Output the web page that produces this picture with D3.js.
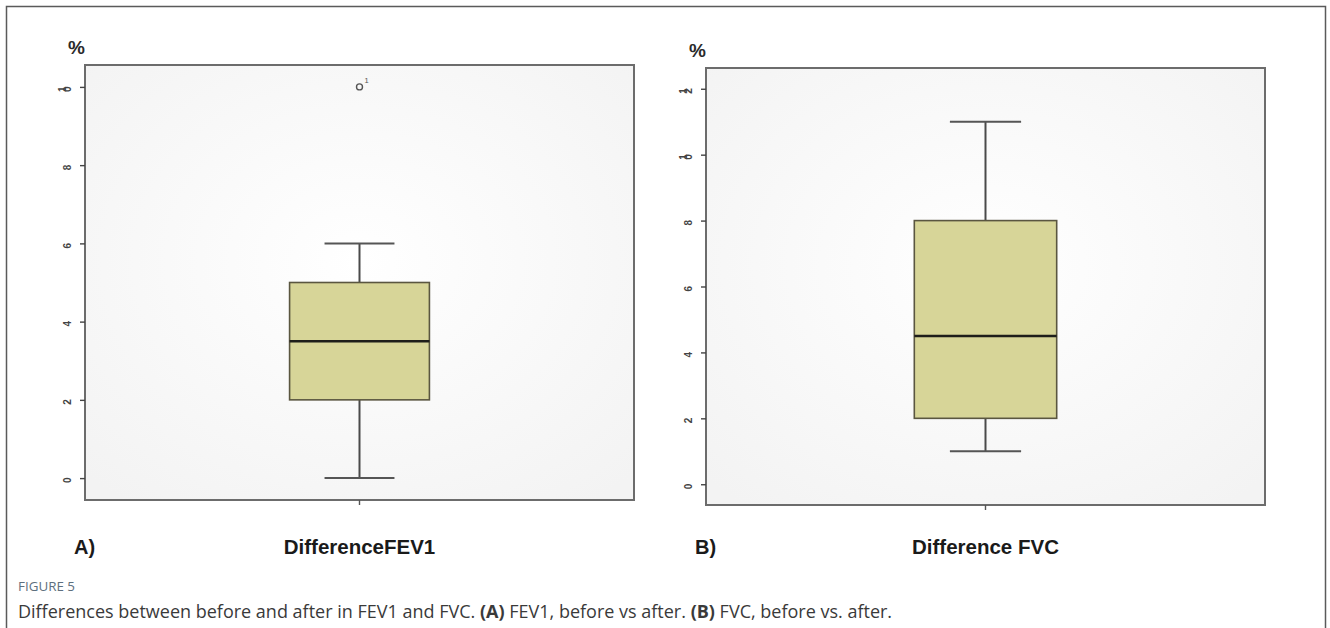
<!DOCTYPE html>
<html>
<head>
<meta charset="utf-8">
<script src="https://cdn.jsdelivr.net/npm/d3@7"></script>
<style>
  html, body { margin: 0; padding: 0; background: #ffffff; }
  svg { display: block; }
</style>
</head>
<body>
<svg id="chart" width="1330" height="628"></svg>
<script>
// ---------------- data ----------------
const categories   = ["DifferenceFEV1", "Difference FVC"];
const panelLabels  = ["A)", "B)"];
const whiskerLow   = [0, 1];
const q1           = [2, 2];
const median       = [3.5, 4.5];
const q3           = [5, 8];
const whiskerHigh  = [6, 11];
const outlierValues = [[10], []];
const outlierLabels = [["1"], []];
const yTicksA = [0, 2, 4, 6, 8, 10];
const yTicksB = [0, 2, 4, 6, 8, 10, 12];
const yDomainA = [-0.56, 10.56];
const yDomainB = [-0.63, 12.63];
const yUnit = "%";
const figureTitle = "FIGURE 5";
const captionParts = [
  {t: "Differences between before and after in FEV1 and FVC. ", b: false},
  {t: "(A)", b: true},
  {t: " FEV1, before vs after. ", b: false},
  {t: "(B)", b: true},
  {t: " FVC, before vs. after.", b: false}
];

// ---------------- layout ----------------
const svg = d3.select("#chart");

const panels = [
  {x0: 85, x1: 634, y0: 65, y1: 500, ticks: yTicksA, domain: yDomainA},
  {x0: 706, x1: 1265, y0: 68, y1: 505, ticks: yTicksB, domain: yDomainB}
];

// outer border
svg.append("rect")
  .attr("x", 6.5).attr("y", 6.5)
  .attr("width", 1319).attr("height", 640)
  .attr("fill", "none").attr("stroke", "#5a5a5a").attr("stroke-width", 1.5);

const defs = svg.append("defs");
const grad = defs.append("radialGradient").attr("id", "bgGrad")
  .attr("cx", "50%").attr("cy", "45%").attr("r", "70%");
grad.append("stop").attr("offset", "0%").attr("stop-color", "#ffffff");
grad.append("stop").attr("offset", "100%").attr("stop-color", "#f3f3f3");

const labelFont = "'Liberation Sans', Arial, Helvetica, sans-serif";

panels.forEach((p, i) => {
  const g = svg.append("g");
  const y = d3.scaleLinear().domain(p.domain).range([p.y1, p.y0]);
  const x = d3.scaleBand().domain([categories[i]]).range([p.x0, p.x1]).padding(0.594);

  // plot background & frame
  g.append("rect")
    .attr("x", p.x0).attr("y", p.y0)
    .attr("width", p.x1 - p.x0).attr("height", p.y1 - p.y0)
    .attr("fill", "url(#bgGrad)")
    .attr("stroke", "#6c6c6c").attr("stroke-width", 2);

  // y axis
  const yAxis = d3.axisLeft(y).tickValues(p.ticks).tickSize(5).tickPadding(3)
    .tickFormat(d3.format("d"));
  const ya = g.append("g").attr("transform", `translate(${p.x0},0)`).call(yAxis);
  ya.select(".domain").remove();
  ya.selectAll(".tick line").attr("stroke", "#444").attr("stroke-width", 1.4);
  ya.selectAll(".tick text")
    .attr("fill", "#444")
    .attr("font-size", 10)
    .attr("font-weight", "bold")
    .attr("font-family", labelFont)
    .attr("rotate", -90)
    .attr("dy", "0.45em");

  // x axis (single tick at category centre)
  const xAxis = d3.axisBottom(x).tickSize(5).tickFormat("");
  const xa = g.append("g").attr("transform", `translate(0,${p.y1})`).call(xAxis);
  xa.select(".domain").remove();
  xa.selectAll(".tick line").attr("stroke", "#555").attr("stroke-width", 1.4);

  const cx = x(categories[i]) + x.bandwidth() / 2;
  const bw = x.bandwidth();
  const capW = bw / 2;

  // whiskers
  g.append("line")
    .attr("x1", cx).attr("x2", cx)
    .attr("y1", y(whiskerHigh[i])).attr("y2", y(q3[i]))
    .attr("stroke", "#4a4a4a").attr("stroke-width", 2);
  g.append("line")
    .attr("x1", cx).attr("x2", cx)
    .attr("y1", y(q1[i])).attr("y2", y(whiskerLow[i]))
    .attr("stroke", "#4a4a4a").attr("stroke-width", 2);
  [whiskerHigh[i], whiskerLow[i]].forEach(v => {
    g.append("line")
      .attr("x1", cx - capW / 2).attr("x2", cx + capW / 2)
      .attr("y1", y(v)).attr("y2", y(v))
      .attr("stroke", "#555").attr("stroke-width", 2);
  });

  // box
  g.append("rect")
    .attr("x", x(categories[i])).attr("y", y(q3[i]))
    .attr("width", bw).attr("height", y(q1[i]) - y(q3[i]))
    .attr("fill", "#d7d598")
    .attr("stroke", "#5a5640").attr("stroke-width", 1.6);

  // median
  g.append("line")
    .attr("x1", x(categories[i])).attr("x2", x(categories[i]) + bw)
    .attr("y1", y(median[i])).attr("y2", y(median[i]))
    .attr("stroke", "#1e1e1a").attr("stroke-width", 2.6);

  // outliers
  outlierValues[i].forEach((v, k) => {
    g.append("circle")
      .attr("cx", cx).attr("cy", y(v)).attr("r", 3)
      .attr("fill", "none").attr("stroke", "#555").attr("stroke-width", 1.4);
    g.append("text")
      .attr("x", cx + 5).attr("y", y(v) - 4)
      .attr("font-size", 7.5).attr("font-family", labelFont)
      .attr("fill", "#555")
      .text(outlierLabels[i][k]);
  });

  // "%" unit
  g.append("text")
    .attr("x", p.x0 - 17).attr("y", p.y0 - 11)
    .attr("font-size", 19).attr("font-weight", "bold")
    .attr("font-family", labelFont).attr("fill", "#2a2a2a")
    .text(yUnit);

  // panel label
  g.append("text")
    .attr("x", p.x0 - 11).attr("y", 554)
    .attr("font-size", 20).attr("font-weight", "bold")
    .attr("font-family", labelFont).attr("fill", "#1a1a1a")
    .text(panelLabels[i]);

  // category label
  g.append("text")
    .attr("x", cx).attr("y", 554)
    .attr("text-anchor", "middle")
    .attr("font-size", 20.5).attr("font-weight", "bold")
    .attr("font-family", labelFont).attr("fill", "#1a1a1a")
    .text(categories[i]);
});

// caption
svg.append("text")
  .attr("x", 18).attr("y", 591)
  .attr("font-size", 13.4)
  .attr("font-family", "'Open Sans', 'Noto Sans', sans-serif")
  .attr("fill", "#5d6f7e")
  .text(figureTitle);

const cap = svg.append("text")
  .attr("x", 18).attr("y", 618)
  .attr("font-size", 18)
  .attr("font-family", "'Open Sans', 'Noto Sans', sans-serif")
  .attr("fill", "#3a3a3a");
captionParts.forEach(c => {
  cap.append("tspan")
    .attr("font-weight", c.b ? "bold" : "normal")
    .text(c.t);
});
</script>
</body>
</html>
